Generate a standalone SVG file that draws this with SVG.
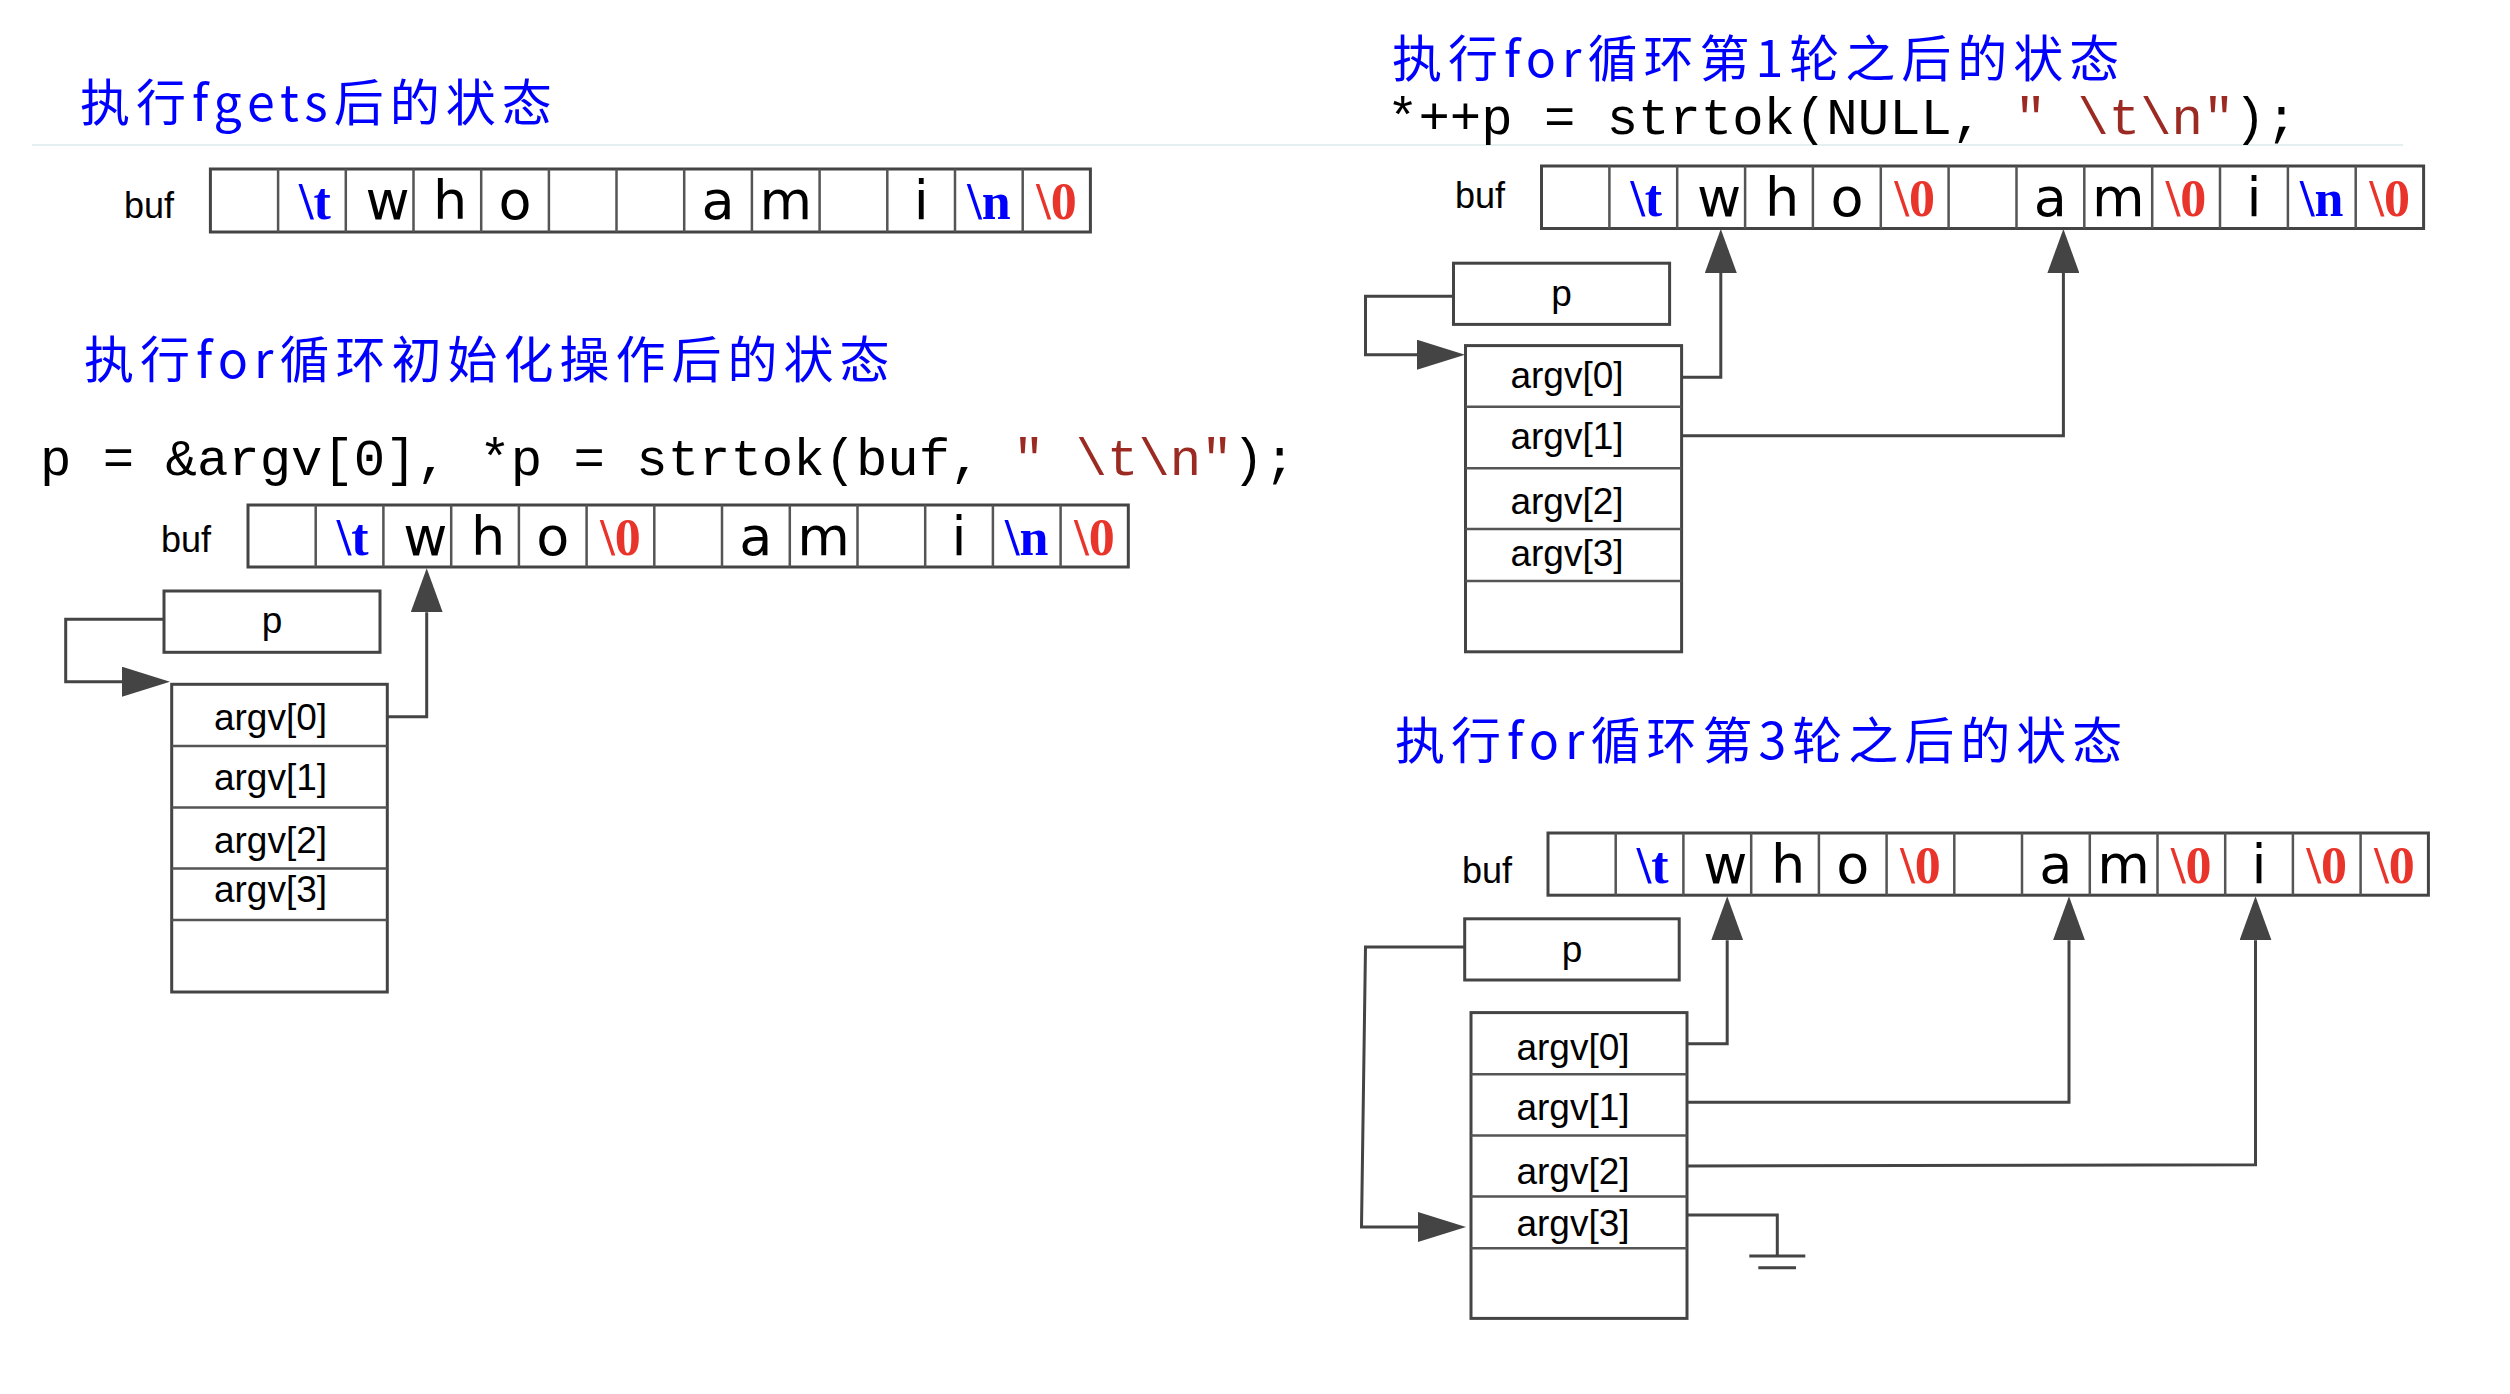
<svg xmlns="http://www.w3.org/2000/svg" width="2510" height="1394" viewBox="0 0 2510 1394">
<style>
.t{font-family:"Noto Sans CJK SC","Noto Sans CJK TC",sans-serif;font-size:50px;letter-spacing:6px;fill:#0000ff}
.code{font-family:"Liberation Mono",monospace;font-size:52.3px;fill:#000}
.str{fill:#9b2a22}
.lab{font-family:"Liberation Sans",sans-serif;font-size:36px;fill:#000}
.arg{font-family:"Liberation Sans",sans-serif;font-size:37px;fill:#000;text-anchor:middle}
.ch{font-family:"DejaVu Sans",sans-serif;font-size:54px;fill:#000;text-anchor:middle}
.esc{font-family:"Liberation Serif",serif;font-weight:bold;font-size:52px;text-anchor:middle}
.b{fill:#0000ff}
.r{fill:#e8342a}
.box{fill:#fff;stroke:#444;stroke-width:3}
.sep{fill:none;stroke:#555;stroke-width:2.5}
.wire{fill:none;stroke:#444;stroke-width:3}
.rule{stroke:#e4f0f0;stroke-width:2}
</style>
<defs>
<marker id="up" markerUnits="userSpaceOnUse" markerWidth="44" markerHeight="32" refX="0" refY="16" orient="auto"><path d="M0,0L44,16L0,32z" fill="#444"/></marker>
<marker id="rt" markerUnits="userSpaceOnUse" markerWidth="48" markerHeight="30" refX="0" refY="15" orient="auto"><path d="M0,0L48,15L0,30z" fill="#444"/></marker>
</defs>
<rect width="2510" height="1394" fill="#fff"/>
<line class="rule" x1="32" y1="145" x2="2403" y2="145"/>

<g id="title1"><text class="t" x="80" y="121">执行fgets后的状态</text></g>
<g id="title2"><text class="t" x="84" y="378">执行for循环初始化操作后的状态</text></g>
<g id="title3"><text class="t" x="1392" y="77">执行for循环第1轮之后的状态</text></g>
<g id="title4"><text class="t" x="1395" y="759">执行for循环第3轮之后的状态</text></g>

<g id="code1"><text class="code" x="40" y="475" xml:space="preserve">p = &amp;argv[0], *p = strtok(buf, <tspan class="str">" \t\n"</tspan>);</text></g>
<g id="code2"><text class="code" x="1387" y="134" xml:space="preserve">*++p = strtok(NULL, <tspan class="str">" \t\n"</tspan>);</text></g>

<g id="buf1">
<text class="lab" x="124" y="218">buf</text>
<rect class="box" x="210.4" y="169" width="880" height="63"/>
<path class="sep" d="M278.1,169V232M345.8,169V232M413.5,169V232M481.2,169V232M548.9,169V232M616.5,169V232M684.2,169V232M751.9,169V232M819.6,169V232M887.3,169V232M955,169V232M1022.7,169V232"/>
<text class="esc b" x="315" y="219">\t</text>
<text class="ch" x="387.6" y="219">w</text>
<text class="ch" x="450" y="219">h</text>
<text class="ch" x="515" y="219">o</text>
<text class="ch" x="718.1" y="219">a</text>
<text class="ch" x="785.8" y="219">m</text>
<text class="ch" x="921.2" y="219">i</text>
<text class="esc b" x="988.9" y="219">\n</text>
<text class="esc r" x="1056.6" y="219">\0</text>
</g>

<g id="buf2">
<text class="lab" x="161" y="552">buf</text>
<rect class="box" x="248" y="505" width="880.3" height="62"/>
<path class="sep" d="M315.7,505V567M383.4,505V567M451.2,505V567M518.9,505V567M586.6,505V567M654.3,505V567M722,505V567M789.8,505V567M857.5,505V567M925.2,505V567M992.9,505V567M1060.6,505V567"/>
<text class="esc b" x="352.6" y="555">\t</text>
<text class="ch" x="425.3" y="555">w</text>
<text class="ch" x="488" y="555">h</text>
<text class="ch" x="552.7" y="555">o</text>
<text class="esc r" x="620.5" y="555">\0</text>
<text class="ch" x="755.9" y="555">a</text>
<text class="ch" x="823.6" y="555">m</text>
<text class="ch" x="959" y="555">i</text>
<text class="esc b" x="1026.8" y="555">\n</text>
<text class="esc r" x="1094.5" y="555">\0</text>
</g>

<g id="buf3">
<text class="lab" x="1455" y="208">buf</text>
<rect class="box" x="1541.5" y="166" width="882.1" height="62.5"/>
<path class="sep" d="M1609.4,166V228.5M1677.2,166V228.5M1745.1,166V228.5M1812.9,166V228.5M1880.8,166V228.5M1948.6,166V228.5M2016.5,166V228.5M2084.3,166V228.5M2152.2,166V228.5M2220,166V228.5M2287.9,166V228.5M2355.7,166V228.5"/>
<text class="esc b" x="1646.3" y="216">\t</text>
<text class="ch" x="1719.2" y="216">w</text>
<text class="ch" x="1782" y="216">h</text>
<text class="ch" x="1846.9" y="216">o</text>
<text class="esc r" x="1914.7" y="216">\0</text>
<text class="ch" x="2050.4" y="216">a</text>
<text class="ch" x="2118.3" y="216">m</text>
<text class="esc r" x="2186.1" y="216">\0</text>
<text class="ch" x="2254" y="216">i</text>
<text class="esc b" x="2321.8" y="216">\n</text>
<text class="esc r" x="2389.7" y="216">\0</text>
</g>

<g id="buf4">
<text class="lab" x="1462" y="883">buf</text>
<rect class="box" x="1548" y="833" width="880.4" height="62.2"/>
<path class="sep" d="M1615.7,833V895.2M1683.4,833V895.2M1751.2,833V895.2M1818.9,833V895.2M1886.6,833V895.2M1954.3,833V895.2M2022,833V895.2M2089.8,833V895.2M2157.5,833V895.2M2225.2,833V895.2M2292.9,833V895.2M2360.6,833V895.2"/>
<text class="esc b" x="1652.6" y="883">\t</text>
<text class="ch" x="1725.3" y="883">w</text>
<text class="ch" x="1788" y="883">h</text>
<text class="ch" x="1852.7" y="883">o</text>
<text class="esc r" x="1920.5" y="883">\0</text>
<text class="ch" x="2055.9" y="883">a</text>
<text class="ch" x="2123.6" y="883">m</text>
<text class="esc r" x="2191.3" y="883">\0</text>
<text class="ch" x="2259" y="883">i</text>
<text class="esc r" x="2326.8" y="883">\0</text>
<text class="esc r" x="2394.5" y="883">\0</text>
</g>

<g id="p1">
<rect class="box" x="164" y="591" width="216" height="61.3"/>
<text class="arg" x="272" y="633">p</text>
</g>
<g id="argv1">
<rect class="box" x="171.7" y="684.3" width="215.6" height="307.7"/>
<path class="sep" d="M171.7,746H387.3M171.7,807.5H387.3M171.7,868.6H387.3M171.7,920H387.3"/>
<text class="arg" x="270.5" y="730">argv[0]</text>
<text class="arg" x="270.5" y="789.5">argv[1]</text>
<text class="arg" x="270.5" y="852.7">argv[2]</text>
<text class="arg" x="270.5" y="902">argv[3]</text>
</g>

<g id="p2">
<rect class="box" x="1453.5" y="263.2" width="216.1" height="61.2"/>
<text class="arg" x="1561.5" y="306">p</text>
</g>
<g id="argv2">
<rect class="box" x="1465.5" y="345.6" width="216.1" height="306.2"/>
<path class="sep" d="M1465.5,406.8H1681.6M1465.5,468.3H1681.6M1465.5,529H1681.6M1465.5,581H1681.6"/>
<text class="arg" x="1567" y="388">argv[0]</text>
<text class="arg" x="1567" y="448.8">argv[1]</text>
<text class="arg" x="1567" y="513.9">argv[2]</text>
<text class="arg" x="1567" y="566">argv[3]</text>
</g>

<g id="p3">
<rect class="box" x="1464.7" y="918.8" width="214.5" height="61.2"/>
<text class="arg" x="1572" y="962">p</text>
</g>
<g id="argv3">
<rect class="box" x="1471" y="1012.6" width="216" height="305.8"/>
<path class="sep" d="M1471,1074.2H1687M1471,1135.4H1687M1471,1196.5H1687M1471,1248.3H1687"/>
<text class="arg" x="1573" y="1059.5">argv[0]</text>
<text class="arg" x="1573" y="1119.7">argv[1]</text>
<text class="arg" x="1573" y="1183.6">argv[2]</text>
<text class="arg" x="1573" y="1235.8">argv[3]</text>
</g>

<g id="connectors">
<path class="wire" d="M164,619.3H65.7V681.7H122" marker-end="url(#rt)"/>
<path class="wire" d="M387.3,716.7H426.7V612.3" marker-end="url(#up)"/>
<path class="wire" d="M1453.5,296.2H1365.5V354.7H1417" marker-end="url(#rt)"/>
<path class="wire" d="M1681.6,377.3H1720.8V273" marker-end="url(#up)"/>
<path class="wire" d="M1681.6,435.8H2063.4V273" marker-end="url(#up)"/>
<path class="wire" d="M1464.7,947H1365.5L1361.5,1227H1418" marker-end="url(#rt)"/>
<path class="wire" d="M1687,1043.8H1727.2V940.3" marker-end="url(#up)"/>
<path class="wire" d="M1687,1102.3H2069V940.3" marker-end="url(#up)"/>
<path class="wire" d="M1687,1166L2255.5,1164.8V940.3" marker-end="url(#up)"/>
<path class="wire" d="M1687,1215H1777.3V1256M1749.3,1256H1805.3M1758.3,1267.7H1796"/>
</g>
</svg>
